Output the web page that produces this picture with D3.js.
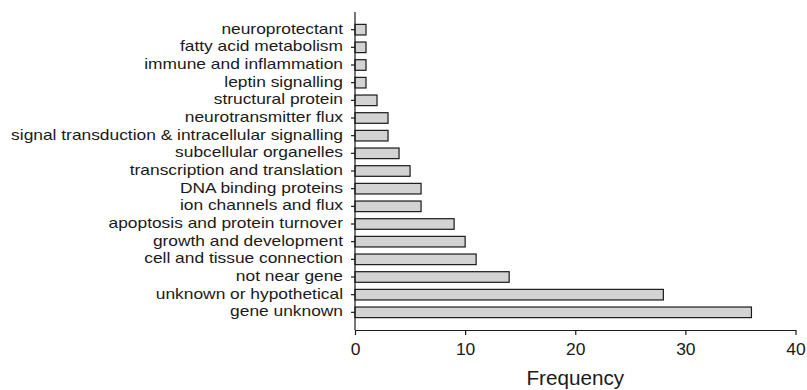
<!DOCTYPE html>
<html><head><meta charset="utf-8">
<script src="https://cdn.jsdelivr.net/npm/d3@7"></script>
<style>body{margin:0;background:#fff}svg{display:block}</style>
</head><body>
<svg id="c" width="807" height="390"></svg>
<script>
const categories = ["neuroprotectant","fatty acid metabolism","immune and inflammation","leptin signalling","structural protein","neurotransmitter flux","signal transduction & intracellular signalling","subcellular organelles","transcription and translation","DNA binding proteins","ion channels and flux","apoptosis and protein turnover","growth and development","cell and tissue connection","not near gene","unknown or hypothetical","gene unknown"];
const frequency = [1,1,1,1,2,3,3,4,5,6,6,9,10,11,14,28,36];
const xTicks = [0,10,20,30,40];
const xLabel = "Frequency";

(function(){
const svg = d3.select("#c");
const mLeft = 355, mRight = 795.5, mTop = 12, mBottom = 330;
const x = d3.scaleLinear().domain([0,40]).range([mLeft,mRight]);
const y = d3.scaleBand().domain(categories).range([mTop,mBottom]).paddingInner(0.4).paddingOuter(0.7);
const ink = "#1a1a1a";
const font = "Liberation Sans, Arial, sans-serif";
const sxL = 1.19, sxT = 1.12;

svg.append("g").selectAll("rect").data(categories).join("rect")
  .attr("x", x(0)).attr("y", d=>y(d))
  .attr("width", (d,i)=>x(frequency[i])-x(0)).attr("height", y.bandwidth())
  .attr("fill","#d3d3d3").attr("stroke",ink).attr("stroke-width",1.2);

const ya = svg.append("g").attr("transform",`translate(${mLeft},0)`)
  .call(d3.axisLeft(y).tickSize(4).tickPadding(8).tickSizeOuter(0));
ya.select(".domain").attr("stroke",ink).attr("stroke-width",1.2).attr("d",`M0,${mTop}V${mBottom}`);
ya.selectAll(".tick line").attr("stroke",ink).attr("stroke-width",1.2);
ya.selectAll("text").attr("font-family",font).attr("font-size",14.6).attr("fill",ink)
  .attr("dy","0.27em").attr("x", -12/sxL).attr("transform",`scale(${sxL},1)`);

const xa = svg.append("g").attr("transform",`translate(0,${mBottom})`)
  .call(d3.axisBottom(x).tickValues(xTicks).tickFormat(d3.format("d")).tickSize(5).tickPadding(6).tickSizeOuter(0));
xa.select(".domain").attr("stroke",ink).attr("stroke-width",1.2);
xa.selectAll(".tick line").attr("stroke",ink).attr("stroke-width",1.2);
xa.selectAll("text").attr("font-family",font).attr("font-size",15.6).attr("fill",ink)
  .attr("dy",null).attr("y",25).attr("transform",`scale(${sxT},1)`);

svg.append("text").attr("transform",`translate(${(mLeft+mRight)/2},384.5) scale(1.06,1)`).attr("text-anchor","middle")
  .attr("font-family",font).attr("font-size",19.5).attr("fill",ink).text(xLabel);
})();
</script>
</body></html>
